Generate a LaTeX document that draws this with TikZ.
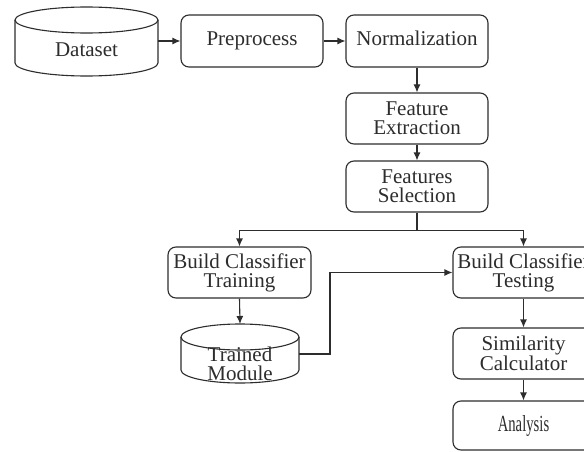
\documentclass[tikz,border=0pt]{standalone}
\usepackage{fontspec}
\setmainfont{Liberation Serif}
\usetikzlibrary{arrows.meta}
\definecolor{ink}{RGB}{45,45,45}
\begin{document}
\begin{tikzpicture}[x=1pt,y=-1pt,
  every node/.style={font=\fontsize{21}{19}\selectfont, text=ink, align=center, inner sep=0pt},
  one/.style={text height=14pt, text depth=4pt},
  box/.style={draw=ink, line width=1.1pt, rounded corners=8pt, minimum width=142pt, minimum height=52pt},
  arr/.style={draw=ink, line width=1.1pt, -{Latex[length=8pt,width=7pt]}},
  ln/.style={draw=ink, line width=1.1pt}]
\useasboundingbox (0,0) rectangle (584,452);
\clip (0,0) rectangle (584,452);
\fill[white] (0,0) rectangle (584,452);
% Dataset cylinder
\draw[ln] (86.5,20) ellipse [x radius=71.5, y radius=13];
\draw[ln] (15,20) -- (15,63) arc[start angle=180, end angle=0, x radius=71.5, y radius=13] -- (158,20);
\node[one, minimum width=143pt] (ds) at (86.5,52) {Dataset};
\coordinate (dso) at (158,41);
% boxes
\node[box, one] (pp) at (252,41) {Preprocess};
\node[box, one] (nm) at (417,41) {Normalization};
\node[box, minimum height=51pt] (fe) at (417,118.5) {Feature\\Extraction};
\node[box, minimum height=51pt] (fs) at (417,186.5) {Features\\Selection};
\node[box, minimum width=143pt, minimum height=51pt] (btr) at (239.5,272.5) {Build Classifier\\Training};
\node[box, minimum width=141pt, minimum height=51pt] (bte) at (523.5,272.5) {Build Classifier\\Testing};
\node[box, minimum width=141pt, minimum height=51pt] (sc) at (523.5,353.5) {Similarity\\Calculator};
\node[box, minimum width=141pt, minimum height=49pt] (an) at (523.5,425.5) {\scalebox{0.7}[1.1]{Analysis}};
% Trained Module cylinder
\draw[ln] (240,337) ellipse [x radius=59, y radius=13];
\draw[ln] (181,337) -- (181,370) arc[start angle=180, end angle=0, x radius=59, y radius=13] -- (299,337);
\node (tm) at (240,364) [minimum width=118pt] {Trained\\Module};
\coordinate (tmtop) at (240,324);
\coordinate (tmo) at (299,354);
% connectors
\draw[arr] (dso) -- (pp.west);
\draw[arr] (pp.east) -- (nm.west);
\draw[arr] (nm.south) -- (fe.north);
\draw[arr] (fe.south) -- (fs.north);
\draw[ln] (fs.south) -- ++(0,17.5) coordinate (j);
\draw[arr] (j) -| (btr.north);
\draw[arr] (j) -| (bte.north);
\draw[arr] (btr.south) -- (tmtop);
\draw[arr] (tmo) -- ++(31,0) |- (bte.west);
\draw[arr] (bte.south) -- (sc.north);
\draw[arr] (sc.south) -- (an.north);
\end{tikzpicture}
\end{document}
